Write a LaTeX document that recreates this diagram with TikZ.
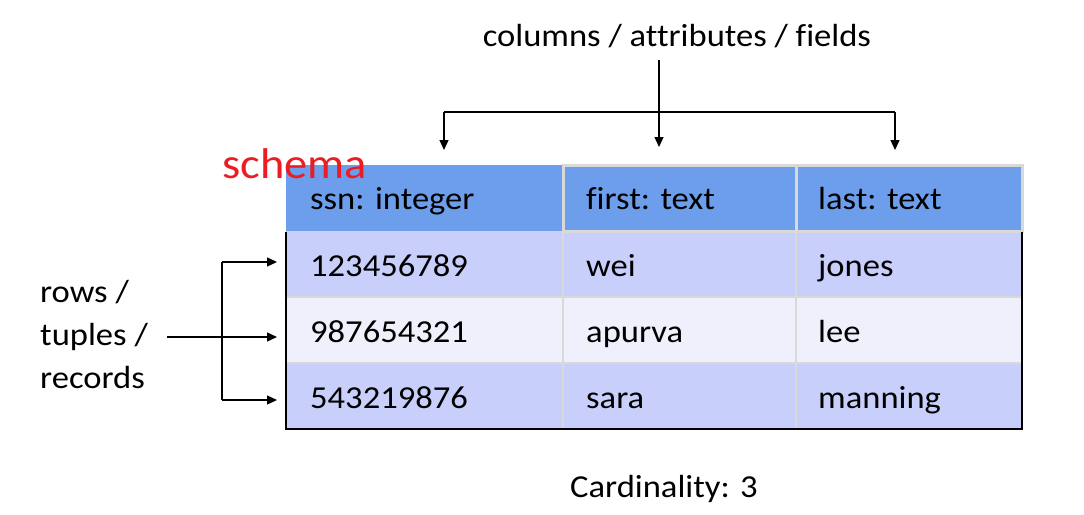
\documentclass[tikz,border=0pt]{standalone}
\usepackage{fontspec}
\setmainfont{Carlito}[FakeStretch=1.08,Ligatures=NoCommon]
\usetikzlibrary{arrows.meta}
\definecolor{hdr}{HTML}{6D9EEB}
\definecolor{rowA}{HTML}{C9CFFB}
\definecolor{rowB}{HTML}{EFF0FB}
\definecolor{gridgray}{HTML}{D9D9D9}
\definecolor{schemared}{HTML}{EC1C24}
\begin{document}
\begin{tikzpicture}[x=1pt,y=-1pt,
  txt/.style={anchor=base west, inner sep=0pt, font=\fontsize{32}{43}\selectfont},
  conn/.style={line width=1.3pt, -{Triangle[length=10pt,width=9pt]}},
  plain/.style={line width=1.3pt},
  gridline/.style={draw=gridgray, line width=2pt},
  hframe/.style={draw=gridgray, line width=3pt}]
\useasboundingbox (0,0) rectangle (1084,514);
% cell fills
\fill[hdr] (286,165) rectangle (1022,231);
\fill[rowA] (286,231) rectangle (1022,297);
\fill[rowB] (286,297) rectangle (1022,363);
\fill[rowA] (286,363) rectangle (1022,429);
% inner grid
\draw[gridline] (563,231) -- (563,429);
\draw[gridline] (796,231) -- (796,429);
\draw[gridline] (286,297) -- (1022,297);
\draw[gridline] (286,363) -- (1022,363);
% header frames
\draw[hframe] (563,165) rectangle (796,231);
\draw[hframe] (796,165) rectangle (1022,231);
% black border
\draw[line width=2pt] (286,232) -- (286,429) -- (1022,429) -- (1022,232);
% texts
\node[txt] (h1) at (310,209) {ssn: integer};
\node[txt] (h2) at (586,209) {first: text};
\node[txt] (h3) at (818,209) {last: text};
\node[txt] (a1) at (310,276) {123456789};
\node[txt] (a2) at (586,276) {wei};
\node[txt] (a3) at (818,276) {jones};
\node[txt] (b1) at (310,342) {987654321};
\node[txt] (b2) at (586,342) {apurva};
\node[txt] (b3) at (818,342) {lee};
\node[txt] (c1) at (310,408) {543219876};
\node[txt] (c2) at (586,408) {sara};
\node[txt] (c3) at (818,408) {manning};
\node[txt, text=schemared, font=\fontsize{43}{46}\selectfont] (schema) at (222,178) {schema};
\node[txt, anchor=base] (cols) at (677,46) {columns / attributes / fields};
\node[txt] (card) at (570,497) {Cardinality: 3};
\node[txt, align=left] (rows) at (40,388) {rows /\\tuples /\\records};
% column arrows
\coordinate (ctop) at (659,60);
\coordinate (ja) at (444,112);
\coordinate (jc) at (895,112);
\coordinate (tipA) at (444,150);
\coordinate (tipB) at (659,147);
\coordinate (tipC) at (895,150);
\draw[plain] (ja) -- (jc);
\draw[conn] (ctop) -- (tipB);
\draw[conn] (ja) -- (tipA);
\draw[conn] (jc) -- (tipC);
% row arrows
\coordinate (lt) at (222,262);
\coordinate (lb) at (222,400);
\coordinate (lstart) at (167,337);
\coordinate (t1) at (277,262);
\coordinate (t2) at (277,337);
\coordinate (t3) at (277,400);
\draw[plain] (lt) -- (lb);
\draw[conn] (lt) -- (t1);
\draw[conn] (lstart) -- (t2);
\draw[conn] (lb) -- (t3);
\end{tikzpicture}
\end{document}
